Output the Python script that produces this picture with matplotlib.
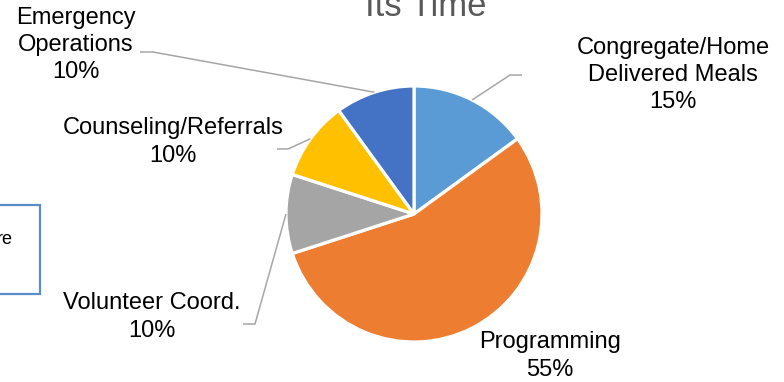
import matplotlib
matplotlib.use("Agg")
import matplotlib.pyplot as plt
import numpy as np
from matplotlib.patches import Rectangle

categories = ["Congregate/Home\nDelivered Meals", "Programming", "Volunteer Coord.",
              "Counseling/Referrals", "Emergency\nOperations"]
values = [15, 55, 10, 10, 10]
colors = ["#5B9BD5", "#ED7D31", "#A5A5A5", "#FFC000", "#4472C4"]
title = "Its Time"

W, H = 784, 382
fig = plt.figure(figsize=(W / 100, H / 100), dpi=100)
ax = fig.add_axes([0, 0, 1, 1])

cx, cy, r = 414, H - 214, 128
ax.pie(values, colors=colors, startangle=90, counterclock=False,
       center=(cx, cy), radius=r, frame=True,
       wedgeprops=dict(edgecolor="white", linewidth=2.3))
ax.set_xlim(0, W)
ax.set_ylim(0, H)
ax.set_aspect("equal")
ax.axis("off")

font = "Liberation Sans"
# label centers (pixel coords, y from top) and leader kink/end points
label_pos = [(673, 75), (550, 356), (152, 317), (173, 142), (76, 45)]
leader = [((510, 75), (522, 75)), None, ((255, 324), (243, 324)),
          ((288, 149), (277, 149)), ((153, 52), (140, 52))]

total = sum(values)
cum = 0
for cat, v, (lx, ly), ld in zip(categories, values, label_pos, leader):
    mid = (cum + v / 2) / total
    cum += v
    ang = np.deg2rad(90 - 360 * mid)
    ex, ey = cx + r * np.cos(ang), cy + r * np.sin(ang)
    pct = f"{round(100 * v / total)}%"
    ax.text(lx, H - ly, f"{cat}\n{pct}", ha="center", va="center",
            fontsize=17, family=font, color="black", linespacing=1.32)
    if ld is not None:
        (kx, ky), (sx, sy) = ld
        ax.plot([ex, kx, sx], [ey, H - ky, H - sy], color="#A6A6A6",
                lw=1.1, solid_capstyle="butt")

ax.text(426, H - 16, title, ha="center", va="baseline", fontsize=25,
        family=font, color="#595959")

# partially visible box on the left
ax.add_patch(Rectangle((-10, H - 294), 50, 89, fill=False,
                       edgecolor="#5A8DC6", lw=1.6))
ax.text(13, H - 240, "re", ha="right", va="center", fontsize=13,
        family=font, color="black")

fig.savefig("out.png", dpi=100)
